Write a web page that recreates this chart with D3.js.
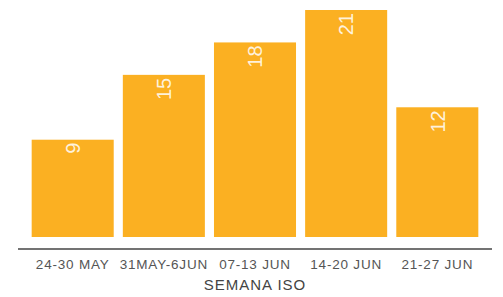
<!DOCTYPE html>
<html><head><meta charset="utf-8">
<script src="https://cdn.jsdelivr.net/npm/d3@7"></script>
<style>body{margin:0;background:#fff}svg{display:block}</style>
</head><body>
<svg id="c" width="503" height="297"></svg>
<script>
const categories = ["24-30 MAY", "31MAY-6JUN", "07-13 JUN", "14-20 JUN", "21-27 JUN"];
const values = [9, 15, 18, 21, 12];
const axisTitle = "SEMANA ISO";

const svg = d3.select("#c");
const baseY = 237;
const x = d3.scaleBand().domain(categories).range([18, 492]).paddingInner(0.1).paddingOuter(0.15);
const y = d3.scaleLinear().domain([0, 21]).range([baseY, 10]);

svg.append("g").selectAll("rect").data(values).join("rect")
  .attr("x", (d, i) => x(categories[i]))
  .attr("width", x.bandwidth())
  .attr("y", d => y(d))
  .attr("height", d => baseY - y(d))
  .attr("fill", "#FBB022");

svg.append("g").selectAll("text").data(values).join("text")
  .attr("transform", (d, i) => `translate(${x(categories[i]) + x.bandwidth() / 2},${y(d) + 3}) rotate(-90)`)
  .attr("text-anchor", "end")
  .attr("dy", "0.36em")
  .attr("font-family", "Liberation Sans, Arial, sans-serif")
  .attr("font-size", 20)
  .attr("fill", "#fff")
  .attr("fill-opacity", 0.85)
  .text(d => d);

const axis = d3.axisBottom(x).tickSize(0).tickPadding(10);
const g = svg.append("g").attr("transform", "translate(0,249)").call(axis);
g.select(".domain").attr("stroke", "#444").attr("stroke-width", 1.5).attr("d", "M18,0H492");
g.selectAll("text")
  .attr("font-family", "Liberation Sans, Arial, sans-serif")
  .attr("font-size", 13.5)
  .attr("letter-spacing", 0.8)
  .attr("fill", "#555");

svg.append("text")
  .attr("x", 255).attr("y", 290)
  .attr("text-anchor", "middle")
  .attr("font-family", "Liberation Sans, Arial, sans-serif")
  .attr("font-size", 15)
  .attr("letter-spacing", 1)
  .attr("fill", "#444")
  .text(axisTitle);
</script>
</body></html>
